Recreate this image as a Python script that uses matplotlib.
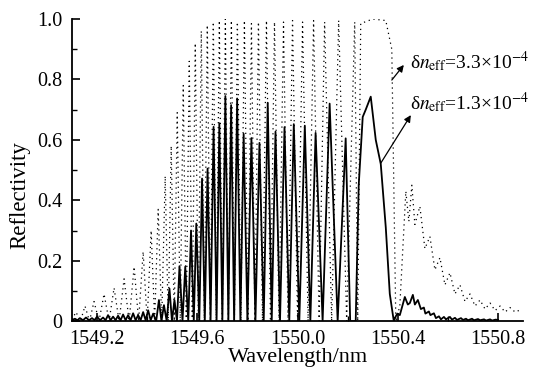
import matplotlib
matplotlib.use("Agg")
import matplotlib.pyplot as plt
import numpy as np

plt.rcParams['font.family'] = ['Liberation Serif', 'DejaVu Serif']
plt.rcParams['mathtext.fontset'] = 'stix'

# dn_eff = 1.3e-4 (solid): peaks and valleys
solid_peak_wl = [1549.112, 1549.132, 1549.156, 1549.180, 1549.200, 1549.224, 1549.244,
                 1549.264, 1549.284, 1549.304, 1549.324, 1549.344, 1549.364, 1549.384,
                 1549.404, 1549.424, 1549.447, 1549.467, 1549.489, 1549.509, 1549.529,
                 1549.552, 1549.575, 1549.596, 1549.619, 1549.641, 1549.665, 1549.688,
                 1549.712, 1549.735, 1549.759, 1549.785, 1549.816, 1549.848, 1549.881,
                 1549.912, 1549.948, 1549.985, 1550.029, 1550.072, 1550.128, 1550.192,
                 1550.244, 1550.260, 1550.272, 1550.292, 1550.312, 1550.332, 1550.352,
                 1550.368]
solid_peak_r = [0.008, 0.010, 0.012, 0.010, 0.015, 0.012, 0.020,
                0.015, 0.018, 0.022, 0.020, 0.026, 0.020, 0.030,
                0.036, 0.025, 0.070, 0.053, 0.108, 0.070, 0.182,
                0.180, 0.300, 0.323, 0.472, 0.505, 0.643, 0.655,
                0.745, 0.715, 0.737, 0.620, 0.606, 0.590, 0.723,
                0.627, 0.642, 0.652, 0.647, 0.623, 0.720, 0.605,
                0.450, 0.676, 0.700, 0.743, 0.600, 0.520, 0.310,
                0.090]
solid_valley_wl = [1549.100, 1549.122, 1549.144, 1549.168, 1549.190, 1549.212, 1549.234,
                   1549.254, 1549.274, 1549.294, 1549.314, 1549.334, 1549.354, 1549.374,
                   1549.394, 1549.414, 1549.436, 1549.457, 1549.478, 1549.499, 1549.519,
                   1549.541, 1549.564, 1549.586, 1549.608, 1549.630, 1549.653, 1549.677,
                   1549.700, 1549.724, 1549.747, 1549.772, 1549.800, 1549.832, 1549.865,
                   1549.897, 1549.930, 1549.967, 1550.007, 1550.051, 1550.100, 1550.160,
                   1550.210, 1550.232, 1550.384]
solid_valley_r = [0.004, 0.003, 0.003, 0.003, 0.003, 0.003, 0.003,
                  0.003, 0.003, 0.003, 0.003, 0.003, 0.003, 0.003,
                  0.003, 0.003, 0.0, 0.0, 0.0, 0.0, 0.0,
                  0.0, 0.0, 0.0, 0.0, 0.0, 0.0, 0.0,
                  0.0, 0.0, 0.0, 0.0, 0.0, 0.0, 0.0,
                  0.0, 0.0, 0.0, 0.0, 0.0, 0.0, 0.0,
                  0.0, 0.0, 0.0]
# solid side lobes on the long-wavelength side
solid_tail_wl = [1550.388, 1550.398, 1550.408, 1550.428, 1550.440, 1550.448, 1550.460,
                 1550.468, 1550.480, 1550.492, 1550.504, 1550.510, 1550.524, 1550.530,
                 1550.544, 1550.552, 1550.564, 1550.572, 1550.584, 1550.592, 1550.608,
                 1550.616, 1550.628, 1550.636, 1550.652, 1550.660, 1550.672, 1550.680,
                 1550.696, 1550.704, 1550.720, 1550.728, 1550.744, 1550.752, 1550.768,
                 1550.776, 1550.790, 1550.800]
solid_tail_r = [0.010, 0.025, 0.020, 0.080, 0.055, 0.060, 0.087,
                0.055, 0.070, 0.040, 0.045, 0.025, 0.032, 0.020,
                0.026, 0.010, 0.016, 0.006, 0.014, 0.006, 0.014,
                0.005, 0.011, 0.004, 0.010, 0.004, 0.008, 0.003,
                0.008, 0.003, 0.007, 0.003, 0.006, 0.002, 0.006,
                0.002, 0.005, 0.004]

# dn_eff = 3.3e-4 (dotted)
dot_peak_wl = [1549.116, 1549.152, 1549.188, 1549.228, 1549.268, 1549.308, 1549.348,
               1549.384, 1549.416, 1549.444, 1549.472, 1549.496, 1549.520, 1549.544,
               1549.568, 1549.592, 1549.616, 1549.640, 1549.664, 1549.688, 1549.712,
               1549.736, 1549.760, 1549.788, 1549.816, 1549.844, 1549.876, 1549.908,
               1549.944, 1549.980, 1550.020, 1550.064, 1550.108, 1550.164, 1550.228,
               1550.252, 1550.300, 1550.352]
dot_peak_r = [0.030, 0.050, 0.065, 0.090, 0.110, 0.140, 0.180,
              0.230, 0.300, 0.370, 0.480, 0.580, 0.690, 0.780,
              0.860, 0.920, 0.960, 0.980, 0.990, 0.995, 1.000,
              0.995, 0.990, 0.995, 0.985, 0.990, 0.995, 0.990,
              0.990, 0.995, 0.990, 0.995, 0.990, 0.995, 0.990,
              0.985, 1.000, 0.995]
dot_valley_wl = [1549.100, 1549.134, 1549.170, 1549.208, 1549.248, 1549.288, 1549.328,
                 1549.366, 1549.400, 1549.430, 1549.458, 1549.484, 1549.508, 1549.532,
                 1549.556, 1549.580, 1549.604, 1549.628, 1549.652, 1549.676, 1549.700,
                 1549.724, 1549.748, 1549.774, 1549.802, 1549.830, 1549.860, 1549.892,
                 1549.926, 1549.962, 1550.000, 1550.042, 1550.086, 1550.136, 1550.196,
                 1550.240, 1550.376, 1550.392]
dot_valley_r = [0.005, 0.0, 0.0, 0.0, 0.0, 0.0, 0.0,
                0.0, 0.0, 0.0, 0.0, 0.0, 0.0, 0.0,
                0.0, 0.0, 0.0, 0.0, 0.0, 0.0, 0.0,
                0.0, 0.0, 0.0, 0.0, 0.0, 0.0, 0.0,
                0.0, 0.0, 0.0, 0.0, 0.0, 0.0, 0.0,
                0.0, 0.900, 0.0]
dot_tail_wl = [1550.408, 1550.432, 1550.444, 1550.456, 1550.468, 1550.488, 1550.508,
               1550.528, 1550.548, 1550.568, 1550.588, 1550.608, 1550.628, 1550.648,
               1550.668, 1550.688, 1550.708, 1550.728, 1550.748, 1550.768, 1550.788,
               1550.808, 1550.828, 1550.848, 1550.868, 1550.896]
dot_tail_r = [0.050, 0.430, 0.330, 0.450, 0.320, 0.380, 0.240,
              0.280, 0.170, 0.210, 0.120, 0.160, 0.090, 0.120,
              0.065, 0.090, 0.050, 0.070, 0.040, 0.060, 0.035,
              0.050, 0.030, 0.045, 0.030, 0.040]

x_ticks = [1549.2, 1549.6, 1550.0, 1550.4, 1550.8]
y_ticks = [0, 0.2, 0.4, 0.6, 0.8, 1.0]
y_ticklabels = ['0', '0.2', '0.4', '0.6', '0.8', '1.0']
labels = ['δ$n_{\\rm eff}$=3.3×10$^{-4}$', 'δ$n_{\\rm eff}$=1.3×10$^{-4}$']


def merge(peak_wl, peak_r, valley_wl, valley_r, tail_wl, tail_r):
    wl = np.concatenate([peak_wl, valley_wl, tail_wl])
    r = np.concatenate([peak_r, valley_r, tail_r])
    order = np.argsort(wl)
    return wl[order], r[order]


wl_s, r_s = merge(solid_peak_wl, solid_peak_r, solid_valley_wl, solid_valley_r,
                  solid_tail_wl, solid_tail_r)
wl_d, r_d = merge(dot_peak_wl, dot_peak_r, dot_valley_wl, dot_valley_r,
                  dot_tail_wl, dot_tail_r)

fig = plt.figure(figsize=(5.41, 3.73), dpi=100)
ax = fig.add_axes([0.133, 0.139, 0.834, 0.81])

ax.plot(wl_d, r_d, color='black', lw=0.9, linestyle=(0, (1, 3)))
ax.plot(wl_s, r_s, color='black', lw=1.3)

ax.set_xlim(1549.1, 1550.9)
ax.set_ylim(0, 1.0)
ax.set_xticks(x_ticks)
ax.set_xticklabels([f'{v:.1f}' for v in x_ticks])
ax.set_xticks(np.arange(1549.2, 1550.81, 0.2), minor=True)
ax.set_yticks(y_ticks)
ax.set_yticklabels(y_ticklabels)
ax.set_yticks(np.arange(0, 1.01, 0.1), minor=True)
ax.tick_params(direction='in', labelsize=14.5, length=6, width=1.2)
ax.tick_params(axis='x', pad=6.5)
ax.tick_params(axis='y', pad=7)
ax.tick_params(which='minor', direction='in', length=3.5, width=1.0)
ax.spines['top'].set_visible(False)
ax.spines['right'].set_visible(False)
ax.spines['left'].set_linewidth(1.3)
ax.spines['bottom'].set_linewidth(1.3)

ax.set_xlabel('Wavelength/nm', fontsize=16, labelpad=-1)
ax.set_ylabel('Reflectivity', fontsize=16.5)
ax.yaxis.set_label_coords(-0.093, 0.417)

arrow = dict(arrowstyle='-|>', color='black', lw=0.9, mutation_scale=10,
             shrinkA=0, shrinkB=0)
ax.annotate('', xy=(1550.424, 0.848), xytext=(1550.376, 0.798), arrowprops=arrow)
ax.annotate('', xy=(1550.452, 0.682), xytext=(1550.332, 0.523), arrowprops=arrow)
ax.text(1550.448, 0.858, labels[0], fontsize=14, va='center', ha='left', clip_on=False)
ax.text(1550.448, 0.722, labels[1], fontsize=14, va='center', ha='left', clip_on=False)

fig.savefig('out.png', dpi=100)
